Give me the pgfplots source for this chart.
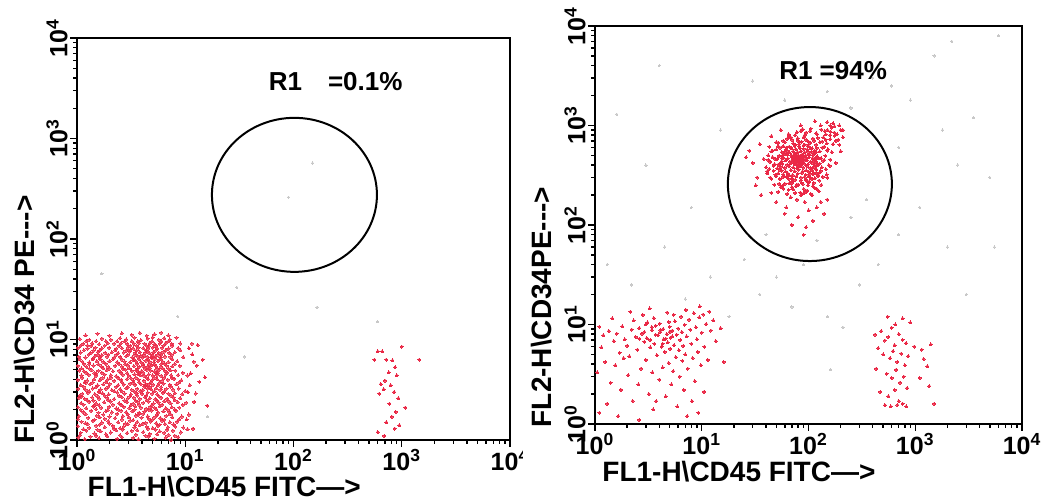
\documentclass[border=0pt]{standalone}
\usepackage{pgfplots}
\pgfplotsset{compat=1.18}
\usepackage{fontspec}
\setmainfont{Liberation Sans}
\definecolor{dotred}{RGB}{234,40,70}
\definecolor{dotgray}{RGB}{200,200,200}
\newcommand{\tl}[1]{10\textsuperscript{#1}}
\newcommand{\lblfont}{\fontsize{14}{16}\selectfont\bfseries}
\newcommand{\tickfont}{\fontsize{12.5}{14}\selectfont\bfseries}
\pgfplotsset{
  reddots/.style={only marks, mark=*, color=dotred, mark size=0.75pt, mark options={draw=dotred, fill=dotred, line width=0pt}},
  densedots/.style={only marks, mark=*, color=dotred, mark size=0.8pt, mark options={draw=dotred, fill=dotred, line width=0pt, opacity=0.8}},
  graydots/.style={only marks, mark=*, color=dotgray, mark size=0.55pt, mark options={draw=dotgray, fill=dotgray, line width=0pt}},
  facsaxis/.style={scale only axis,
    xmin=1, xmax=10000, ymin=1, ymax=10000,
    xtick={1,10,100,1000,10000}, ytick={1,10,100,1000,10000},
    minor xtick={2,3,4,5,6,7,8,9,20,30,40,50,60,70,80,90,200,300,400,500,600,700,800,900,2000,3000,4000,5000,6000,7000,8000,9000},
    minor ytick={2,3,4,5,6,7,8,9,20,30,40,50,60,70,80,90,200,300,400,500,600,700,800,900,2000,3000,4000,5000,6000,7000,8000,9000},
    xticklabels={\tl0,\tl1,\tl2,\tl3,\tl4},
    yticklabels={\tl0,\tl1,\tl2,\tl3,\tl4},
    tick pos=left, tick align=outside,
    major tick length=3.5pt, minor tick length=2pt,
    tick style={black, line width=0.7pt},
    axis line style={black, line width=1pt},
    xticklabel style={font=\tickfont, inner sep=1pt},
    yticklabel style={font=\tickfont, rotate=90, anchor=south, inner sep=1pt},
    label style={font=\lblfont}},
}
\begin{document}
\begin{tikzpicture}
\useasboundingbox (0,0) rectangle (529.5pt,251pt);
% ---------------- left panel ----------------
\begin{scope}
\clip (0,0) rectangle (261pt,251pt);
\begin{loglogaxis}[facsaxis,
  width=216.5pt, height=201pt, at={(38.5pt,31pt)}, anchor=south west,
  xlabel={FL1-H\textbackslash CD45 FITC\textemdash\textgreater},
  ylabel={FL2-H\textbackslash CD34 PE-{}-{}-\textgreater},
  xlabel style={at={(rel axis cs:0.34,-0.117)}, anchor=center},
  ylabel style={at={(rel axis cs:-0.12,0.30)}, anchor=center}]
\addplot[densedots] coordinates {
(1.03,1.06)(1.18,1.02)(1.33,1.08)(1.6,1.04)(1.9,1.09)(2.35,1.03)(2.6,1.07)(3.3,1.05)(3.7,1.02)(4.6,1.08)(5.2,1.03)(6.6,1.06)(7.4,1.01)(8.6,1.07)
(1.08,1.18)(1.22,1.24)(1.45,1.16)(1.65,1.22)(2.05,1.19)(2.3,1.25)(2.9,1.17)(3.2,1.23)(4.1,1.2)(4.7,1.15)(5.8,1.22)(6.4,1.18)(7.7,1.24)(9.1,1.19)
(1.02,1.37)(1.3,1.32)(1.5,1.39)(1.8,1.34)(2.15,1.38)(2.5,1.31)(2.7,1.36)(3.4,1.33)(3.8,1.4)(4.4,1.35)(5.0,1.31)(5.6,1.38)(6.9,1.34)(8.1,1.36)(9.6,1.33)
(1.1,1.52)(1.2,1.47)(1.4,1.55)(1.7,1.49)(1.95,1.54)(2.4,1.5)(2.8,1.46)(3.1,1.56)(3.6,1.51)(4.3,1.48)(4.8,1.53)(5.4,1.47)(6.1,1.55)(7.2,1.5)(8.4,1.52)
(1.04,1.72)(1.27,1.66)(1.52,1.74)(1.62,1.68)(2.0,1.71)(2.25,1.65)(2.65,1.73)(3.0,1.69)(3.5,1.75)(3.95,1.67)(4.5,1.72)(5.3,1.7)(5.9,1.65)(6.7,1.74)(7.6,1.68)(9.3,1.71)
(1.14,1.9)(1.35,1.95)(1.58,1.87)(1.85,1.93)(2.1,1.88)(2.55,1.96)(2.85,1.89)(3.25,1.94)(3.75,1.86)(4.2,1.92)(4.9,1.97)(5.6,1.88)(6.3,1.93)(7.1,1.9)(8.2,1.95)
(1.02,2.12)(1.22,2.07)(1.42,2.15)(1.68,2.09)(1.98,2.14)(2.3,2.06)(2.7,2.13)(3.05,2.08)(3.45,2.16)(3.9,2.1)(4.35,2.05)(4.75,2.14)(5.2,2.09)(5.8,2.16)(6.6,2.07)(7.5,2.12)(8.8,2.1)
(1.09,2.33)(1.3,2.39)(1.5,2.31)(1.78,2.37)(2.05,2.42)(2.45,2.32)(2.9,2.38)(3.3,2.3)(3.65,2.4)(4.1,2.34)(4.6,2.41)(5.1,2.31)(5.7,2.36)(6.4,2.43)(7.3,2.33)(8.5,2.38)(10.2,2.35)
(1.04,2.62)(1.18,2.56)(1.38,2.65)(1.6,2.58)(1.9,2.63)(2.2,2.55)(2.6,2.66)(2.95,2.59)(3.35,2.64)(3.8,2.57)(4.25,2.66)(4.7,2.6)(5.3,2.55)(6.0,2.63)(6.8,2.58)(7.8,2.65)(9.0,2.6)
(1.12,2.88)(1.26,2.95)(1.46,2.86)(1.72,2.92)(1.96,2.85)(2.35,2.97)(2.75,2.9)(3.15,2.84)(3.55,2.93)(4.0,2.87)(4.5,2.96)(4.95,2.89)(5.5,2.85)(6.2,2.94)(7.0,2.88)(8.0,2.92)(9.4,2.86)(12.5,2.9)
(1.03,3.22)(1.2,3.15)(1.4,3.26)(1.65,3.18)(1.85,3.24)(2.1,3.13)(2.5,3.21)(2.85,3.27)(3.2,3.16)(3.6,3.23)(4.05,3.14)(4.45,3.25)(4.85,3.19)(5.4,3.28)(5.9,3.15)(6.7,3.22)(7.7,3.18)(8.7,3.25)
(1.08,3.52)(1.32,3.6)(1.55,3.5)(1.75,3.58)(2.0,3.62)(2.4,3.51)(2.7,3.57)(3.1,3.64)(3.45,3.53)(3.9,3.59)(4.3,3.49)(4.65,3.61)(5.05,3.55)(5.6,3.5)(6.3,3.63)(7.2,3.54)(8.3,3.58)(11.0,3.5)
(1.02,3.97)(1.24,3.9)(1.44,4.02)(1.62,3.93)(1.92,4.0)(2.2,3.88)(2.55,3.96)(2.9,4.04)(3.3,3.91)(3.7,3.99)(4.15,3.89)(4.55,4.03)(4.95,3.94)(5.5,4.01)(6.1,3.9)(6.9,3.98)(7.9,4.05)(9.2,3.92)
(1.1,4.38)(1.28,4.45)(1.5,4.35)(1.8,4.47)(2.05,4.4)(2.3,4.33)(2.65,4.46)(3.0,4.37)(3.4,4.5)(3.85,4.41)(4.2,4.34)(4.6,4.48)(5.0,4.39)(5.45,4.44)(6.0,4.36)(6.6,4.49)(7.4,4.4)(8.6,4.43)(10.5,4.38)
(1.05,4.92)(1.16,4.85)(1.36,4.97)(1.58,4.88)(1.88,4.95)(2.15,4.83)(2.45,4.9)(2.8,5.0)(3.2,4.86)(3.55,4.94)(3.95,4.84)(4.4,4.98)(4.8,4.9)(5.2,4.82)(5.75,4.96)(6.5,4.87)(7.3,4.93)(8.1,4.89)
(1.02,5.45)(1.22,5.36)(1.42,5.5)(1.68,5.4)(1.95,5.33)(2.25,5.47)(2.6,5.38)(2.95,5.52)(3.35,5.42)(3.75,5.35)(4.1,5.48)(4.5,5.39)(4.9,5.53)(5.35,5.43)(5.95,5.36)(6.7,5.49)(7.6,5.41)(8.9,5.46)
(1.12,6.02)(1.3,5.93)(1.52,6.08)(1.75,5.98)(2.0,6.1)(2.35,5.95)(2.75,6.05)(3.1,5.92)(3.5,6.07)(3.9,5.97)(4.3,6.12)(4.7,6.01)(5.15,5.94)(5.6,6.09)(6.2,6.0)(7.0,5.96)(8.4,6.06)(12.0,6.0)
(1.04,6.72)(1.2,6.62)(1.46,6.8)(1.62,6.68)(1.9,6.76)(2.2,6.6)(2.5,6.7)(2.85,6.83)(3.25,6.65)(3.65,6.78)(4.05,6.63)(4.45,6.75)(4.85,6.68)(5.3,6.82)(5.9,6.64)(6.5,6.77)(7.3,6.7)(9.6,6.66)
(1.08,7.42)(1.34,7.35)(1.56,7.5)(1.82,7.38)(2.1,7.46)(2.4,7.32)(2.7,7.44)(3.05,7.55)(3.45,7.37)(3.8,7.48)(4.25,7.4)(4.65,7.33)(5.1,7.47)(5.7,7.39)(6.3,7.52)(7.1,7.36)(8.0,7.45)
(1.02,8.25)(1.25,8.12)(1.48,8.3)(1.7,8.18)(1.98,8.27)(2.3,8.1)(2.6,8.22)(2.95,8.33)(3.3,8.15)(3.7,8.28)(4.1,8.2)(4.55,8.1)(5.0,8.3)(5.5,8.17)(6.1,8.26)(7.0,8.14)(8.6,8.22)
(1.14,9.05)(1.38,9.15)(1.6,9.0)(1.92,9.2)(2.2,9.08)(2.55,9.18)(2.9,9.02)(3.35,9.12)(3.75,9.22)(4.2,9.06)(4.7,9.16)(5.2,9.0)(5.8,9.1)(6.6,9.2)(7.5,9.04)(9.0,9.12)(11.5,9.1)
(1.06,10.1)(1.3,9.9)(1.7,10.2)(2.05,9.95)(2.5,10.3)(2.85,10.0)(3.4,10.4)(3.9,9.85)(4.5,10.2)(5.0,10.5)(5.7,9.95)(6.4,10.3)(7.2,10.0)(8.3,10.4)
(1.2,11.0)(1.55,11.4)(2.0,10.9)(2.6,11.5)(3.2,11.1)(3.8,11.6)(4.4,10.9)(5.2,11.3)(6.0,11.7)(7.0,11.0)
(3.6,5.1)(4.1,5.7)(4.7,5.2)(5.2,6.4)(3.9,6.9)(4.4,7.7)(5.6,7.1)(3.3,6.2)(4.9,6.6)(5.4,4.6)(3.7,4.5)(4.3,3.6)(6.0,5.7)(3.1,7.9)(4.6,8.6)
(1.3,5.7)(1.5,4.6)(1.2,3.7)(1.4,6.4)(1.1,2.7)(1.6,3.0)(1.7,7.0)(1.25,8.7)(1.45,2.2)
(1.07,1.12)(1.5,1.1)(1.85,1.14)(2.5,1.11)(3.5,1.13)(4.3,1.1)(5.5,1.14)(7.0,1.12)(8.0,1.1)
(1.15,1.28)(1.55,1.26)(2.2,1.29)(2.65,1.27)(3.6,1.25)(4.5,1.29)(5.3,1.27)(6.8,1.26)(10.5,1.28)
(1.25,1.44)(1.62,1.42)(2.0,1.45)(2.95,1.43)(3.45,1.41)(4.05,1.45)(5.8,1.42)(6.5,1.44)(7.8,1.43)
(1.02,1.61)(1.45,1.59)(1.8,1.62)(2.6,1.6)(3.3,1.58)(4.6,1.62)(5.0,1.6)(6.4,1.59)(8.8,1.61)
(1.2,1.81)(1.75,1.79)(2.35,1.82)(2.95,1.8)(3.7,1.78)(4.1,1.82)(5.5,1.8)(7.3,1.81)(10.8,1.79)
(1.08,2.0)(1.5,2.02)(1.92,1.98)(2.4,2.01)(3.4,2.0)(4.6,1.99)(5.4,2.02)(6.9,2.0)(8.0,2.01)
(1.15,2.24)(1.6,2.22)(2.15,2.25)(2.55,2.23)(3.15,2.21)(3.75,2.25)(4.9,2.22)(6.1,2.24)(9.5,2.23)
(1.25,2.48)(1.42,2.46)(1.95,2.49)(2.75,2.47)(3.5,2.45)(4.4,2.49)(5.45,2.47)(6.9,2.46)(8.0,2.48)
(1.06,2.76)(1.55,2.74)(1.8,2.77)(2.45,2.75)(3.1,2.73)(3.6,2.77)(4.35,2.75)(5.7,2.74)(7.4,2.76)
(1.3,3.06)(1.6,3.04)(2.2,3.07)(2.6,3.05)(3.4,3.03)(3.85,3.07)(5.2,3.05)(6.4,3.04)(10.0,3.06)
(1.15,3.38)(1.5,3.36)(1.95,3.39)(2.3,3.37)(2.95,3.35)(4.2,3.39)(4.7,3.37)(6.0,3.36)(7.3,3.38)
(1.18,3.76)(1.4,3.74)(1.85,3.77)(2.6,3.75)(3.3,3.73)(3.75,3.77)(4.8,3.75)(5.8,3.74)(8.8,3.76)
(1.12,4.16)(1.72,4.14)(2.05,4.17)(2.4,4.15)(3.15,4.13)(3.5,4.17)(4.4,4.15)(5.2,4.14)(6.4,4.16)(7.5,4.15)
(1.22,4.66)(1.45,4.64)(1.7,4.67)(2.55,4.65)(2.9,4.63)(3.7,4.67)(4.1,4.65)(5.6,4.64)(6.8,4.66)(9.5,4.65)
(1.1,5.16)(1.3,5.14)(1.75,5.17)(2.0,5.15)(2.65,5.13)(3.05,5.17)(4.25,5.15)(5.5,5.14)(6.2,5.16)(7.0,5.15)
(1.16,5.71)(1.58,5.69)(1.85,5.72)(2.45,5.7)(2.8,5.68)(3.6,5.72)(4.6,5.7)(5.2,5.69)(6.5,5.71)(8.0,5.7)
(1.06,6.36)(1.4,6.34)(1.65,6.37)(2.15,6.35)(2.6,6.33)(3.35,6.37)(3.75,6.35)(4.55,6.34)(5.9,6.36)(7.6,6.35)
(1.28,7.06)(1.55,7.04)(1.95,7.07)(2.3,7.05)(2.95,7.03)(3.45,7.07)(4.15,7.05)(4.95,7.04)(6.0,7.06)(7.5,7.05)
(1.16,7.81)(1.42,7.79)(1.62,7.82)(2.25,7.8)(2.85,7.78)(3.55,7.82)(4.35,7.8)(5.35,7.79)(6.6,7.81)(9.0,7.8)
(1.08,8.66)(1.35,8.64)(1.8,8.67)(2.45,8.65)(3.1,8.63)(3.55,8.67)(4.4,8.65)(5.3,8.64)(6.3,8.66)(7.6,8.65)
(1.22,9.61)(1.5,9.59)(1.85,9.62)(2.35,9.6)(2.75,9.58)(3.2,9.62)(3.65,9.6)(4.95,9.59)(6.0,9.61)(7.0,9.6)
};
\addplot[reddots] coordinates {
(10.8,8.2)(11.6,7.1)(12.8,5.5)(11.2,4.6)(13.5,3.8)(10.6,3.0)(12.1,2.4)(14.5,6.3)(15.2,4.2)(10.3,1.6)(13.0,8.8)(16.0,2.2)(11.8,1.3)
(600,7.6)(660,7.6)(1000,8.5)(560,6.3)(720,6.3)(820,6.2)(1450,6.3)(870,5.3)(760,4.7)(900,4.4)(640,3.6)(700,3.9)(790,3.5)(680,3.2)(850,3.0)(620,2.9)(930,2.6)(770,2.3)(1080,2.1)(880,1.9)(810,1.7)(720,1.5)(950,1.4)(600,1.2)(860,1.3)(690,1.1)
};
\addplot[graydots] coordinates {
(35,6.7)(16,1.7)(1.7,45)(30,33)(165,21)(150,570)(90,260)(8.5,17)(600,15)
};
\draw[line width=1pt] (axis cs:102,275) ellipse [x radius=41.25pt, y radius=38.5pt];
\node[font=\fontsize{13}{15}\selectfont\bfseries] at (axis cs:245,3650) {R1\quad=0.1\%};
\end{loglogaxis}
\end{scope}
% ---------------- right panel ----------------
\begin{loglogaxis}[facsaxis,
  width=213.5pt, height=199pt, at={(297.5pt,39pt)}, anchor=south west,
  xlabel={FL1-H\textbackslash CD45 FITC\textemdash\textgreater},
  ylabel={FL2-H\textbackslash CD34PE-{}-{}-\textgreater},
  xlabel style={at={(rel axis cs:0.337,-0.12)}, anchor=center},
  ylabel style={at={(rel axis cs:-0.126,0.294)}, anchor=center}]
\addplot[graydots] coordinates {
(1.3,40)(2.2,25)(4.5,60)(7.0,18)(12,30)(18,12)(25,45)(35,20)(50,30)(70,15)(150,12)(210,9.4)(160,3.5)(300,25)(450,40)(700,80)(1100,150)(2000,60)(3000,20)(2500,400)(1800,900)(900,1800)(600,2500)(400,3000)(1500,5000)(3500,1200)(5000,300)(250,1500)(150,2200)(60,1800)(30,2800)(15,900)(8,150)(3,400)(1.6,1300)(4,4000)(6000,8000)(2200,7000)(700,600)(350,180)(250,120)(120,70)(40,80)(90,40)(5500,60)
};
\addplot[reddots] coordinates {
(62,305)(70,296)(77,308)(85,299)(92,303)(100,310)(66,315)
(58,322)(64,330)(71,318)(79,327)(86,333)(94,320)(103,328)(110,324)
(56,352)(61,345)(68,356)(74,348)(81,360)(88,346)(95,354)(101,342)(108,357)
(55,385)(60,376)(66,390)(72,380)(78,372)(83,388)(89,378)(96,392)(104,375)(112,384)
(57,412)(63,404)(69,418)(74,407)(80,420)(86,403)(91,415)(99,408)(107,419)(114,410)
(56,438)(61,447)(67,433)(73,445)(78,436)(84,450)(90,440)(97,446)(105,432)(112,443)
(58,473)(64,466)(70,478)(76,468)(82,480)(87,465)(93,474)(101,482)(109,469)
(57,500)(63,512)(69,503)(75,515)(81,498)(87,510)(94,502)(102,516)(110,505)
(60,545)(66,536)(72,549)(79,540)(85,553)(92,538)(99,547)(107,542)
(62,575)(69,588)(76,578)(83,592)(90,582)(97,574)(105,590)
(66,615)(74,628)(82,618)(90,632)(98,622)
(75,420)(79,455)(83,430)(77,490)(85,470)(72,455)(88,500)(80,395)(74,480)(86,425)(78,520)(82,445)(70,430)(90,455)(76,440)(84,490)(81,410)(73,500)(87,445)(79,470)
(40,380)(44,430)(42,500)(47,350)(46,560)(50,310)(49,460)(52,620)(38,460)(45,290)(50,680)(43,610)(48,410)(53,260)(41,330)
(120,400)(125,470)(118,540)(130,350)(135,600)(122,310)(140,450)(128,680)(145,720)(150,560)(118,640)(160,800)(138,760)(155,400)(126,280)(170,650)(150,900)(165,950)(175,850)(142,880)
(60,260)(70,240)(80,255)(90,230)(100,265)(75,210)(85,200)(95,215)(110,245)(65,225)(55,240)(105,205)(120,230)(78,180)(92,170)(68,190)
(60,680)(70,720)(80,700)(90,760)(100,690)(75,800)(95,850)(110,740)(65,770)(85,880)(120,820)(105,930)
(30,420)(28,560)(33,300)(35,650)(26,480)(32,250)(36,200)(150,300)(180,420)(200,550)(190,720)(210,900)(170,1050)(130,1000)(60,130)(80,120)(100,140)(120,150)(70,100)(95,95)(130,170)(50,170)(45,210)(110,110)(150,180)(85,1000)(55,900)(45,780)(115,1100)(195,1000)(90,80)(140,130)(62,150)
(52,215)(63,205)(72,228)(84,212)(97,222)(108,200)(125,218)(58,232)(90,208)(115,235)
(48,255)(57,248)(66,262)(76,245)(88,258)(99,250)(112,265)(132,252)(70,275)(95,280)
(44,300)(49,320)(115,296)(124,318)(136,305)(148,322)(54,290)(118,335)(41,345)(128,340)
(43,365)(47,395)(51,372)(118,362)(122,398)(133,380)(145,365)(158,392)(52,405)(127,415)
(42,452)(46,480)(51,462)(53,495)(117,458)(121,488)(131,470)(144,496)(160,455)(137,442)
(45,548)(50,575)(54,600)(114,560)(119,595)(128,548)(140,610)(152,575)(165,540)(58,620)
(52,670)(58,700)(63,735)(72,662)(79,745)(86,690)(95,720)(104,668)(113,702)(122,752)(134,690)(148,662)(160,730)(68,760)
(65,820)(78,860)(92,800)(104,880)(118,835)(132,910)(145,815)(160,870)(176,790)(88,920)
(180,700)(185,820)(195,640)(200,900)(175,980)(160,1000)(150,1080)(210,760)
(52,330)(54,360)(55,420)(56,470)(60,520)(63,560)(68,600)(75,640)(82,650)(92,640)(100,620)(108,590)(114,530)(118,480)(118,430)(116,370)(112,330)(104,300)(95,285)(85,280)(75,285)(65,290)(58,305)(86,265)(78,250)(70,265)(102,275)(108,290)(56,540)(62,600)
(1.1,9.5)(1.2,7.8)(1.35,8.6)(1.15,5.9)(1.25,4.2)(1.4,2.6)(1.3,1.6)(1.1,1.3)(1.5,6.8)(1.6,8.1)(1.7,5.2)(1.55,3.9)(1.8,9.6)(1.9,7.1)(1.75,2.2)(1.65,1.2)(2.0,6.1)(2.1,4.8)(2.2,8.9)(2.05,3.1)(2.3,11.0)(2.4,7.5)(2.25,1.7)(2.5,5.6)(2.6,9.2)(2.7,3.6)(2.55,2.5)(2.8,12.5)(2.9,6.7)(2.75,8.1)
(3.0,4.4)(3.1,10.5)(3.2,2.0)(3.05,7.3)(3.3,5.9)(3.4,8.8)(3.5,1.4)(3.45,3.3)(3.6,6.4)(3.7,9.7)(3.55,11.6)(3.8,4.9)(3.9,7.8)(4.0,2.8)(4.1,8.4)(4.2,6.0)(4.05,10.2)(4.3,3.7)(4.4,7.1)(4.5,5.3)(4.35,9.0)(4.6,1.9)(4.7,8.0)(4.8,6.6)(4.9,4.1)(5.0,9.5)(5.1,7.4)(5.2,2.5)(5.05,5.7)(5.3,8.7)
(5.4,3.4)(5.5,6.2)(5.6,10.8)(5.7,4.7)(5.8,7.9)(5.9,1.5)(6.0,9.1)(6.1,5.5)(6.2,3.0)(6.3,7.0)(6.4,12.0)(6.5,8.4)(6.6,4.3)(6.7,6.1)(6.8,2.2)(6.9,9.9)(7.0,5.0)(7.2,7.6)(7.4,3.6)(7.6,11.2)(7.8,8.9)(8.0,6.4)(8.2,4.6)(8.4,13.0)(8.6,2.7)(8.8,9.4)(9.0,7.1)(9.2,5.3)(9.5,11.8)(9.8,3.9)
(10.0,8.3)(10.3,12.6)(10.6,6.0)(11.0,10.1)(11.4,4.4)(11.8,13.5)(12.2,8.7)(12.8,11.0)(13.5,6.8)(10.5,2.1)(9.3,1.3)(8.1,1.7)(7.3,1.2)(2.6,1.1)(1.45,11.5)(1.05,3.3)(2.15,13.5)(3.25,14.5)(4.75,13.2)(1.85,4.6)(3.75,1.7)(5.45,12.5)(7.1,14.0)(9.6,15.2)(16,4.2)(15,9.2)
(3.3,7.0)(3.7,7.9)(4.1,8.8)(4.6,7.2)(5.0,8.4)(3.4,9.4)(4.3,6.4)(2.9,8.4)(5.3,7.6)(2.6,7.2)(3.0,10.0)(4.9,10.6)
(420,7.9)(480,8.6)(520,6.9)(560,7.5)(600,9.3)(640,6.2)(700,8.0)(760,7.0)(820,6.5)(450,5.8)(500,5.0)(580,4.6)(620,5.4)(680,4.2)(740,5.1)(800,3.9)(860,4.8)(430,3.6)(540,3.2)(600,2.9)(660,3.5)(720,2.6)(780,3.0)(840,2.3)(470,2.1)(560,1.9)(640,2.2)(700,1.7)(760,1.6)(820,1.5)(590,1.5)(520,1.55)(680,1.55)
(1200,4.5)(1300,3.8)(1150,5.6)(1400,6.3)(1100,2.9)(1350,2.4)(900,10.5)(760,11.5)(650,10.0)(980,6.0)(550,12.0)(1500,1.6)
};
\draw[line width=1pt] (axis cs:103,258) ellipse [x radius=41pt, y radius=38.5pt];
\node[font=\fontsize{13}{15}\selectfont\bfseries] at (axis cs:170,3530) {R1 =94\%};
\end{loglogaxis}
\end{tikzpicture}
\end{document}
